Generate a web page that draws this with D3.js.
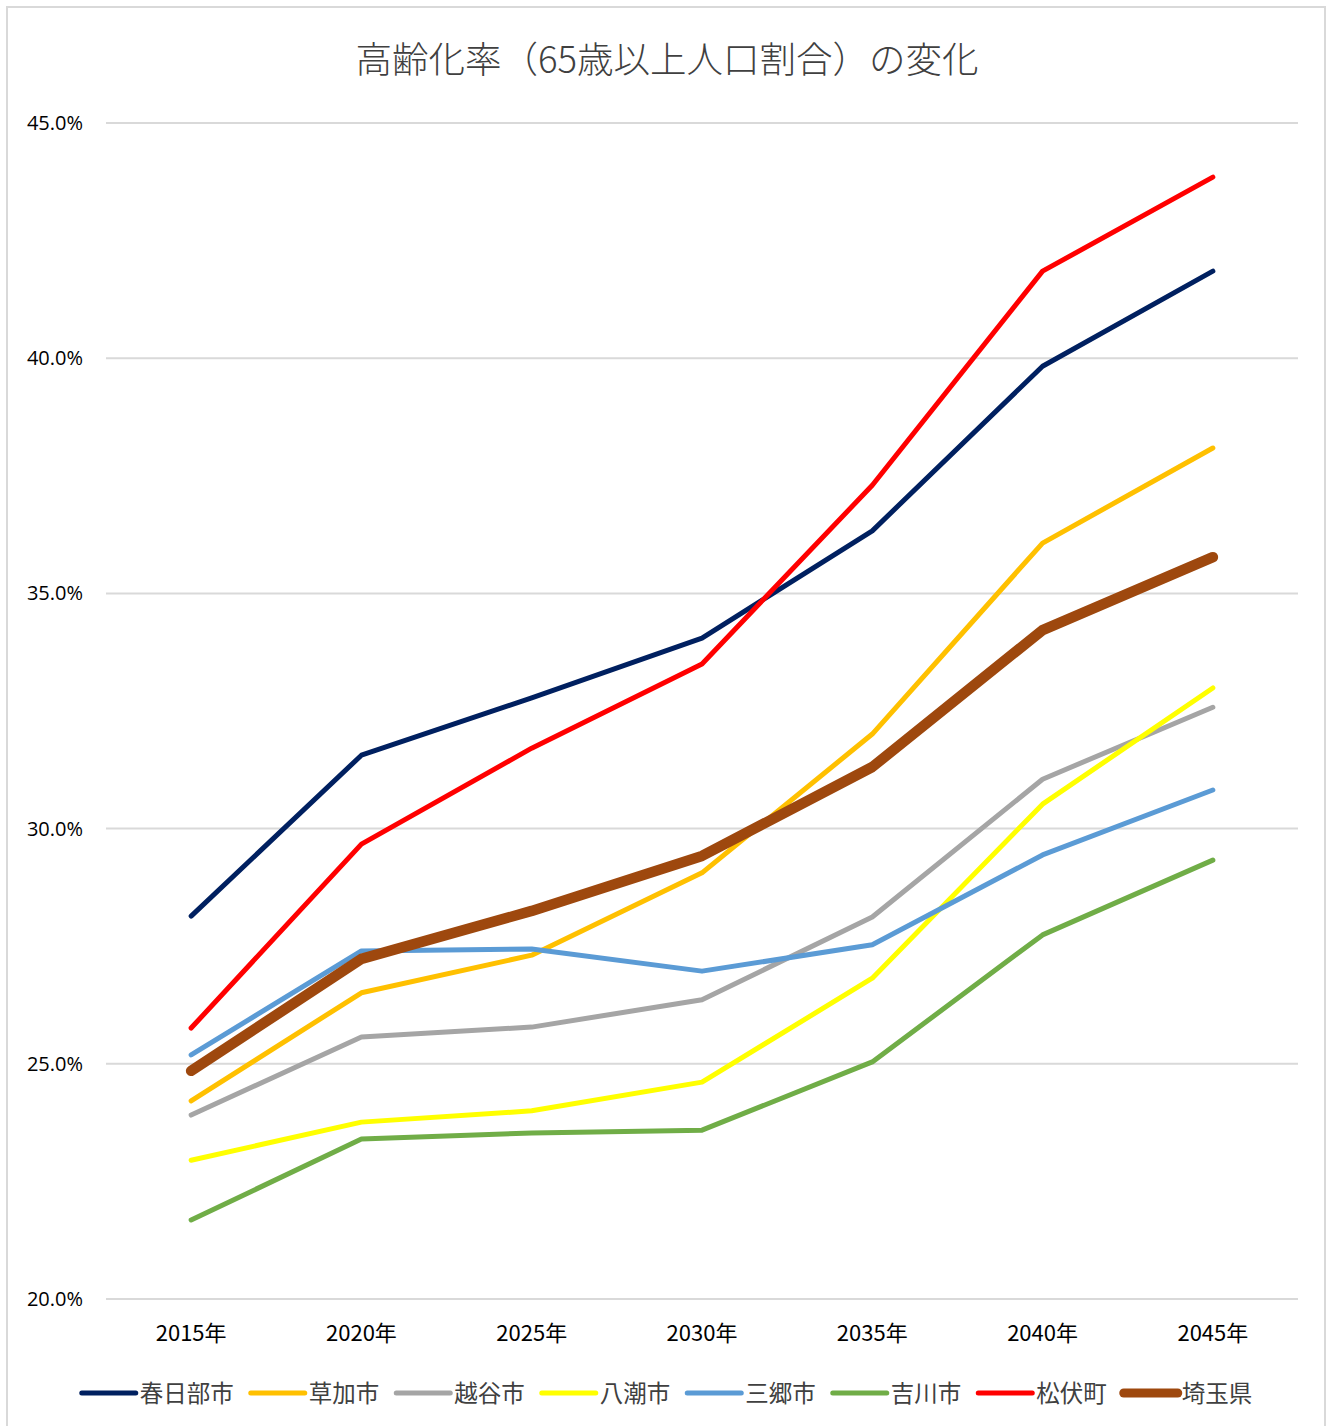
<!DOCTYPE html>
<html><head><meta charset="utf-8">
<script src="https://cdn.jsdelivr.net/npm/d3@7/dist/d3.min.js"></script>
<style>body{margin:0;background:#fff}svg{display:block}</style>
</head><body><svg id="c" width="1328" height="1426"></svg>
<script>
const years = ["2015年","2020年","2025年","2030年","2035年","2040年","2045年"];
const names = ["春日部市","草加市","越谷市","八潮市","三郷市","吉川市","松伏町","埼玉県"];
const kasukabe = [28.14,31.56,32.78,34.05,36.33,39.83,41.85];
const soka     = [24.21,26.51,27.31,29.06,32.01,36.07,38.09];
const koshigaya= [23.91,25.57,25.78,26.36,28.12,31.05,32.58];
const yashio   = [22.95,23.76,24.00,24.61,26.82,30.52,32.99];
const misato   = [25.19,27.40,27.44,26.97,27.53,29.44,30.82];
const yoshikawa= [21.68,23.40,23.53,23.59,25.04,27.74,29.33];
const matsubushi=[25.76,29.67,31.71,33.50,37.30,41.85,43.85];
const saitama  = [24.85,27.23,28.25,29.42,31.31,34.22,35.77];
const yTicks = [20,25,30,35,40,45];
const colors = ["#002060","#FFC000","#A5A5A5","#FFFF00","#5B9BD5","#70AD47","#FF0000","#9E480E"];
const widths = [5,5,5,5,5,5,5,10.5];
const seriesVals = [kasukabe,soka,koshigaya,yashio,misato,yoshikawa,matsubushi,saitama];

const svg = d3.select("#c");
const font = "'Noto Sans CJK JP','Noto Sans',sans-serif";
svg.append("rect").attr("x",7).attr("y",7).attr("width",1318).attr("height",1430)
  .attr("fill","#fff").attr("stroke","#d9d9d9").attr("stroke-width",2);

const x = d3.scaleBand().domain(years).range([106,1298]);
const y = d3.scaleLinear().domain([20,45]).range([1299,123]);

svg.append("text").attr("x",667).attr("y",73).attr("text-anchor","middle")
  .attr("font-family",font).attr("font-size",36.5).attr("font-weight",300).attr("fill","#404040")
  .text("高齢化率（65歳以上人口割合）の変化");

// gridlines
svg.append("g").selectAll("line").data(yTicks).join("line")
  .attr("x1",106).attr("x2",1298).attr("y1",d=>y(d)).attr("y2",d=>y(d))
  .attr("stroke","#d9d9d9").attr("stroke-width",2);

const ya = svg.append("g").attr("transform","translate(106,0)")
  .call(d3.axisLeft(y).tickValues(yTicks).tickFormat(d=>d.toFixed(1)+"%").tickSize(0).tickPadding(23));
ya.select(".domain").remove();
ya.selectAll("text").attr("font-family","'Open Sans',sans-serif").attr("font-size",20).attr("fill","#000");

const xa = svg.append("g").attr("transform","translate(0,1299)")
  .call(d3.axisBottom(x).tickSize(0).tickPadding(26));
xa.select(".domain").remove();
xa.selectAll("text").attr("font-family",font).attr("font-size",22).attr("fill","#000");

const line = d3.line().x((d,i)=>x(years[i])+x.bandwidth()/2).y(d=>y(d));
seriesVals.forEach((vals,k)=>{
  svg.append("path").datum(vals).attr("d",line).attr("fill","none")
    .attr("stroke",colors[k]).attr("stroke-width",widths[k])
    .attr("stroke-linecap","round").attr("stroke-linejoin","round");
});

// legend
const lg = svg.append("g");
let cx = 0;
names.forEach((n,k)=>{
  const g = lg.append("g");
  g.append("line").attr("x1",0).attr("x2",54).attr("y1",0).attr("y2",0)
    .attr("stroke",colors[k]).attr("stroke-width",k===7?9:5).attr("stroke-linecap","round");
  const t = g.append("text").attr("x",58).attr("y",8.5).attr("font-family",font).attr("font-size",23.5)
    .attr("fill","#404040").text(n);
  const w = 58 + t.node().getComputedTextLength();
  g.attr("transform",`translate(${cx},0)`);
  cx += w + 17;
});
const total = cx - 17;
lg.attr("transform",`translate(${(1328-total)/2+3},1393)`);
</script></body></html>
